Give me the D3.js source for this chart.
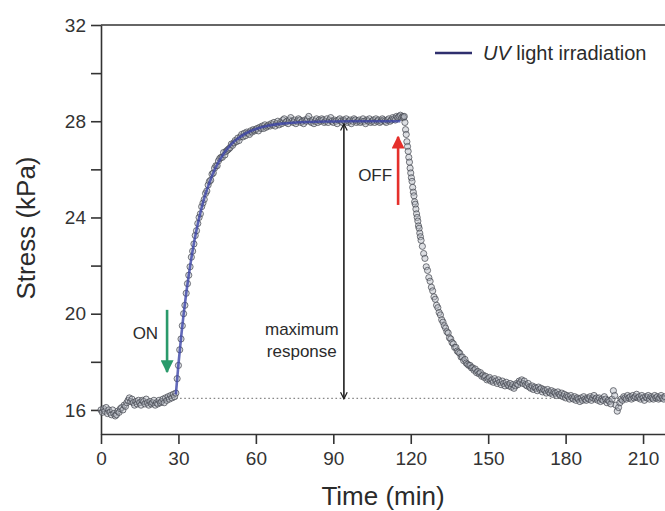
<!DOCTYPE html>
<html>
<head>
<meta charset="utf-8">
<script src="https://cdn.jsdelivr.net/npm/d3@7"></script>
<style>
  body { margin: 0; background: #fff; }
  svg { display: block; font-family: "Liberation Sans", Arial, sans-serif; }
  .axis path, .axis line { stroke: #333; stroke-width: 1.6; }
  .axis text { fill: #333; font-size: 19px; }
</style>
</head>
<body>
<div id="chart"></div>
<script>
// measured stress (kPa)
// part A: 0 - 117 min, every 0.5 min
const stressA = [
  16.0, 15.9, 16.05, 15.95, 16.1, 15.85, 16.0, 15.9, 15.8, 16.0,
  15.85, 15.75, 15.8, 15.95, 15.9, 16.05, 16.1, 16.0, 16.2, 16.15,
  16.3, 16.4, 16.5, 16.35, 16.45, 16.3, 16.2, 16.35, 16.25, 16.4,
  16.3, 16.2, 16.4, 16.35, 16.25, 16.45, 16.3, 16.2, 16.35, 16.25,
  16.3, 16.4, 16.2, 16.3, 16.25, 16.4, 16.3, 16.35, 16.45, 16.3,
  16.5, 16.4, 16.55, 16.45, 16.6, 16.5, 16.65, 16.55,
  16.7, 17.3, 17.85, 18.5, 18.95, 19.5, 20.0, 20.35, 20.85, 21.25,
  21.6, 21.95, 22.35, 22.6, 22.9, 23.25, 23.45, 23.75, 24.0, 24.15,
  24.45, 24.6, 24.75, 25.0, 25.1, 25.35, 25.5, 25.55, 25.8, 25.85,
  26.05, 26.15, 26.15, 26.35, 26.45, 26.5, 26.5, 26.7, 26.6, 26.75,
  26.8, 26.85, 26.9, 27.05, 27.0, 27.1, 27.2, 27.15, 27.3, 27.2,
  27.35, 27.45, 27.35, 27.5, 27.4, 27.55, 27.5, 27.45, 27.6, 27.55,
  27.65, 27.6,
  27.65, 27.7, 27.6, 27.75, 27.7, 27.8, 27.7, 27.85, 27.75, 27.8,
  27.85, 27.8, 27.9, 27.85, 27.95, 27.8, 27.9, 28.0, 27.85, 27.95,
  27.9, 28.05, 28.1, 27.95, 28.0, 27.9, 28.05, 28.15, 28.0, 27.95,
  28.05, 27.9, 28.0, 28.1, 28.05, 27.95, 28.0, 27.9, 28.05, 28.0,
  28.1, 28.2, 28.0, 27.95, 28.05, 27.9, 28.0, 28.1, 27.95, 28.05,
  28.0, 28.1, 28.05, 27.95, 28.0, 28.1, 27.95, 28.05, 28.15, 28.0,
  27.95, 28.05, 28.0, 27.9, 28.05, 28.1, 28.0, 27.95, 28.05, 28.0,
  28.1, 27.95, 28.0, 28.05, 27.9, 28.0, 28.1, 28.05, 27.95, 28.0,
  28.05, 27.95, 28.0, 28.1, 28.0, 27.9, 28.05, 28.0, 28.1, 27.95,
  28.0, 28.05, 27.95, 28.1, 28.0, 28.05, 27.95, 28.0, 28.1, 28.05,
  28.0, 27.95, 28.05, 28.1, 28.0, 28.05, 28.15, 28.1, 28.05, 28.2,
  28.15, 28.2, 28.25, 28.15, 28.2
];
// part B: 117.25 - 124 min, every 0.25 min (fast drop after UV off)
const stressB = [
  28.15, 28.2, 27.95, 27.65, 27.45, 27.15, 26.95, 26.75, 26.5, 26.3,
  26.05, 25.85, 25.65, 25.5, 25.25, 25.05, 24.9, 24.65, 24.55, 24.35,
  24.15, 24.0, 23.85, 23.65, 23.55, 23.35, 23.2, 23.05
];
// part C: 124.5 - 218.5 min, every 0.5 min
const stressC = [
  22.8, 22.5, 22.3, 21.95, 21.8, 21.5, 21.35, 21.1, 20.95,
  20.7, 20.6, 20.35, 20.25, 20.05, 19.95, 19.75, 19.65, 19.5, 19.4,
  19.25, 19.2, 19.0, 18.95, 18.8, 18.75, 18.6, 18.6, 18.45, 18.4,
  18.35, 18.2, 18.2, 18.05, 18.1, 17.95, 17.9, 17.85, 17.85, 17.75,
  17.75, 17.65, 17.7, 17.55, 17.6, 17.5, 17.55, 17.4, 17.45,
  17.35, 17.4, 17.25, 17.3, 17.35, 17.2, 17.25, 17.15, 17.3,
  17.2, 17.1, 17.25, 17.15, 17.05, 17.2, 17.1, 17.0, 17.15, 17.05,
  17.0, 17.1, 16.95, 17.05, 16.9, 17.0, 17.1, 17.05, 17.2, 17.15,
  17.25, 17.1, 17.2, 17.05, 17.0, 17.1, 16.95, 16.9, 17.0, 16.85,
  16.95, 16.9, 16.8, 16.95, 16.85, 16.9, 16.75, 16.85, 16.8, 16.7,
  16.85, 16.75, 16.7, 16.8, 16.65, 16.75, 16.7, 16.6, 16.75, 16.65,
  16.6, 16.7, 16.55, 16.65, 16.5, 16.6, 16.55, 16.45, 16.6, 16.5,
  16.45, 16.55, 16.4, 16.5, 16.45, 16.35, 16.5, 16.4, 16.55, 16.45,
  16.4, 16.5, 16.45, 16.55, 16.4, 16.5, 16.6, 16.45, 16.5, 16.4,
  16.5, 16.35, 16.45, 16.4, 16.55, 16.45, 16.3, 16.4, 16.35, 16.25,
  16.45, 16.8, 16.6, 16.2, 15.95, 16.1, 16.3, 16.45, 16.4, 16.55,
  16.5, 16.45, 16.6, 16.5, 16.55, 16.45, 16.6, 16.5, 16.55, 16.65,
  16.5, 16.55, 16.45, 16.6, 16.5, 16.4, 16.55, 16.5, 16.6, 16.45,
  16.55, 16.5, 16.45, 16.6, 16.5, 16.55, 16.45, 16.5, 16.6, 16.5,
  16.45, 16.55
];
const timeA = d3.range(0, 117.01, 0.5);
const timeB = d3.range(117.25, 124.01, 0.25);
const timeC = d3.range(124.5, 218.51, 0.5);
const time = timeA.concat(timeB, timeC);
const stress = stressA.concat(stressB, stressC);

// fitted curve under UV light
const fitTime = [29, 30, 31, 32, 33, 34, 35, 36, 37, 38, 39, 40, 42, 44, 46, 48, 50, 53, 56, 60, 65, 70, 80, 90, 100, 116];
const fitStress = [16.65, 17.89, 18.99, 19.97, 20.84, 21.61, 22.30, 22.93, 23.48, 23.97, 24.41, 24.80, 25.45, 25.98,
  26.39, 26.72, 26.99, 27.28, 27.49, 27.68, 27.82, 27.90, 27.97, 27.99, 28.0, 28.0];

const xTicks = [0, 30, 60, 90, 120, 150, 180, 210];
const yTicks = [16, 20, 24, 28, 32];
const yMinor = [18, 22, 26, 30];
const baseline = 16.48;

const width = 665, height = 511;
const svg = d3.select("#chart").append("svg")
  .attr("width", width).attr("height", height);

const x = d3.scaleLinear().domain([0, 218.5]).range([101, 665]);
const y = d3.scaleLinear().domain([15, 32]).range([434, 25]);

// frame top line
svg.append("line")
  .attr("x1", x(0)).attr("x2", x(218.5))
  .attr("y1", y(32)).attr("y2", y(32))
  .attr("stroke", "#333").attr("stroke-width", 1.6);

// axes
svg.append("g").attr("class", "axis")
  .attr("transform", `translate(0,${y(15)})`)
  .call(d3.axisBottom(x).tickValues(xTicks).tickSize(10).tickPadding(8).tickSizeOuter(0));

svg.append("g").attr("class", "axis")
  .attr("transform", `translate(${x(0)},0)`)
  .call(d3.axisLeft(y).tickValues(yTicks).tickSize(10).tickPadding(5).tickSizeOuter(0));

svg.append("g").attr("class", "axis")
  .attr("transform", `translate(${x(0)},0)`)
  .call(d3.axisLeft(y).tickValues(yMinor).tickSize(10).tickFormat("").tickSizeOuter(0))
  .select(".domain").remove();

// dotted baseline
svg.append("line")
  .attr("x1", x(29)).attr("x2", x(218.5))
  .attr("y1", y(baseline)).attr("y2", y(baseline))
  .attr("stroke", "#888").attr("stroke-width", 1.4)
  .attr("stroke-dasharray", "1.6,2.6");

// data points
svg.append("g").selectAll("circle")
  .data(stress)
  .join("circle")
  .attr("cx", (d, i) => x(time[i]))
  .attr("cy", d => y(d))
  .attr("r", 3.1)
  .attr("fill", "#b4b9c2").attr("fill-opacity", 0.45)
  .attr("stroke", "#3e424a").attr("stroke-opacity", 0.7).attr("stroke-width", 1);

// fit line
const line = d3.line()
  .x((d, i) => x(fitTime[i]))
  .y(d => y(d))
  .curve(d3.curveMonotoneX);

svg.append("path")
  .datum(fitStress)
  .attr("d", line)
  .attr("fill", "none")
  .attr("stroke", "#3b44a8").attr("stroke-opacity", 0.8)
  .attr("stroke-width", 2.6);

// arrow markers
const defs = svg.append("defs");
function solidHead(id, color) {
  defs.append("marker")
    .attr("id", id).attr("viewBox", "0 0 10 10")
    .attr("refX", 9).attr("refY", 5)
    .attr("markerWidth", 5).attr("markerHeight", 5)
    .attr("markerUnits", "strokeWidth")
    .attr("orient", "auto")
    .append("path").attr("d", "M0,0 L10,5 L0,10 Z").attr("fill", color);
}
solidHead("headGreen", "#2a9a6b");
solidHead("headRed", "#e5302b");
defs.append("marker")
  .attr("id", "headOpen").attr("viewBox", "0 0 12 12")
  .attr("refX", 11).attr("refY", 6)
  .attr("markerWidth", 8).attr("markerHeight", 8)
  .attr("markerUnits", "userSpaceOnUse")
  .attr("orient", "auto-start-reverse")
  .append("path").attr("d", "M1,1 L11,6 L1,11")
  .attr("fill", "none").attr("stroke", "#1e1e1e").attr("stroke-width", 1.8);

// ON arrow
svg.append("line")
  .attr("x1", x(25.6)).attr("x2", x(25.6))
  .attr("y1", y(20.16)).attr("y2", y(17.58))
  .attr("stroke", "#2a9a6b").attr("stroke-width", 2.6)
  .attr("marker-end", "url(#headGreen)");

// OFF arrow
svg.append("line")
  .attr("x1", x(115.1)).attr("x2", x(115.1))
  .attr("y1", y(24.52)).attr("y2", y(27.35))
  .attr("stroke", "#e5302b").attr("stroke-width", 2.6)
  .attr("marker-end", "url(#headRed)");

// maximum response arrow
svg.append("line")
  .attr("x1", x(94.1)).attr("x2", x(94.1))
  .attr("y1", y(27.89)).attr("y2", y(16.46))
  .attr("stroke", "#1e1e1e").attr("stroke-width", 1.6)
  .attr("marker-start", "url(#headOpen)")
  .attr("marker-end", "url(#headOpen)");

// annotation text
const note = svg.append("g")
  .attr("fill", "#2b2b2b").attr("font-size", 17).attr("text-anchor", "middle");
note.append("text").attr("x", x(17.2)).attr("y", y(18.95)).text("ON");
note.append("text").attr("x", x(106.2)).attr("y", y(25.52)).text("OFF");
note.append("text").attr("x", x(77.8)).attr("y", y(19.1)).text("maximum");
note.append("text").attr("x", x(77.8)).attr("y", y(18.18)).text("response");

// axis titles
svg.append("text")
  .attr("x", 383).attr("y", 505)
  .attr("text-anchor", "middle")
  .attr("font-size", 26).attr("fill", "#2b2b2b")
  .text("Time (min)");

svg.append("text")
  .attr("transform", "translate(35,228) rotate(-90)")
  .attr("text-anchor", "middle")
  .attr("font-size", 26).attr("fill", "#2b2b2b")
  .text("Stress (kPa)");

// legend
const legend = svg.append("g").attr("transform", "translate(435,53)");
legend.append("line")
  .attr("x1", 0).attr("x2", 37)
  .attr("stroke", "#2f2f6e").attr("stroke-width", 2.4);
const lt = legend.append("text")
  .attr("x", 48).attr("y", 7)
  .attr("font-size", 20).attr("fill", "#2b2b2b");
lt.append("tspan").attr("font-style", "italic").text("UV");
lt.append("tspan").text(" light irradiation");
</script>
</body>
</html>
